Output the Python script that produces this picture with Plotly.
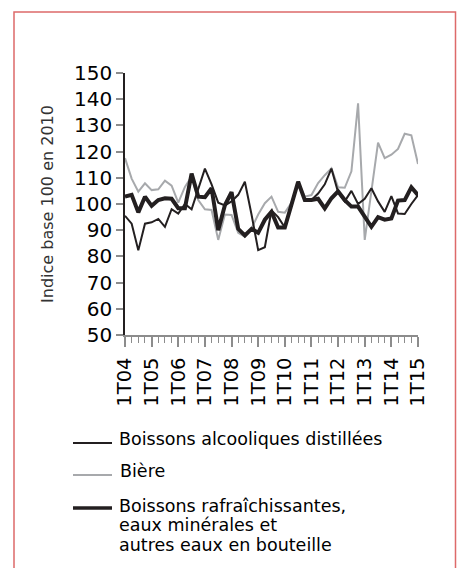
import plotly.graph_objects as go

quarters = list(range(45))
tick_pos = [0, 4, 8, 12, 16, 20, 24, 28, 32, 36, 40, 44]
tick_labels = ["1T04", "1T05", "1T06", "1T07", "1T08", "1T09", "1T10",
               "1T11", "1T12", "1T13", "1T14", "1T15"]

alcools = [95.5, 92.5, 82.3, 92.5, 93, 94.3, 91.3, 98, 96.3, 100,
           98, 106, 113.5, 107.5, 100.5, 99.5, 101, 103.5, 108.5, 96,
           82.4, 83.5, 97.5, 95, 91, 100, 108.5, 101.5, 101.5, 104,
           107.5, 113.5, 104.5, 101, 105, 100, 102, 106, 101, 97,
           103, 96.4, 96.2, 100, 103.4]
biere = [117.5, 109.7, 104.7, 107.9, 105.3, 105.6, 108.9, 107, 100.5, 106.5,
         110.5, 101.5, 98, 97.7, 86.3, 96, 95.8, 89, 87.5, 90.7,
         96, 100.3, 102.8, 97, 96.7, 100.5, 108.5, 102.8, 103.4, 108,
         111, 113.6, 106.4, 106.2, 112.5, 138.4, 86.3, 105, 123.4, 117.5,
         118.8, 121, 126.8, 126.2, 115.3]
rafraich = [102.8, 103.5, 96.8, 102.8, 99.3, 101.5, 102.2, 102, 98.4, 98.4,
            111.6, 102.8, 102.6, 106, 90, 99.5, 104.5, 90.5, 88, 90.5,
            89, 94, 97, 91, 91, 100, 108.5, 101.5, 101.5, 102,
            98.3, 102.2, 104.8, 101.5, 99, 99, 95.2, 91.3, 95, 94,
            94.5, 101.3, 101.5, 106.4, 103.4]

names = ["Boissons alcooliques distillées", "Bière",
         ["Boissons rafraîchissantes,", "eaux minérales et", "autres eaux en bouteille"]]

DARK = "#231f20"
GREY = "#a7a9ac"
FONT = "DejaVu Sans"

fig = go.Figure()
fig.add_trace(go.Scatter(x=quarters, y=biere, mode="lines",
                         line=dict(color=GREY, width=2), name="Bière"))
fig.add_trace(go.Scatter(x=quarters, y=alcools, mode="lines",
                         line=dict(color=DARK, width=2), name=names[0]))
fig.add_trace(go.Scatter(x=quarters, y=rafraich, mode="lines",
                         line=dict(color=DARK, width=4), name="rafraich"))

L, T, W, H = 125, 73, 293, 262
def px(x):
    return (x - L) / W
def py(y):
    return (T + H - y) / H

shapes = [
    dict(type="rect", xref="paper", yref="paper", x0=px(14), x1=px(455.5),
         y0=py(620), y1=py(12), line=dict(color="#dd6a6a", width=1.5)),
    dict(type="line", xref="paper", yref="paper", x0=px(73), x1=px(112),
         y0=py(443), y1=py(443), line=dict(color=DARK, width=2)),
    dict(type="line", xref="paper", yref="paper", x0=px(73), x1=px(112),
         y0=py(475), y1=py(475), line=dict(color=GREY, width=2)),
    dict(type="line", xref="paper", yref="paper", x0=px(73), x1=px(112),
         y0=py(508), y1=py(508), line=dict(color=DARK, width=3.5)),
]

def label(text, x, y, size=17.5):
    return dict(text=text, xref="paper", yref="paper", x=px(x), y=py(y),
                xanchor="left", yanchor="middle", showarrow=False, borderpad=0,
                font=dict(family=FONT, size=size, color="#000"))

annotations = [
    label(names[0], 118, 439),
    label(names[1], 119, 471),
    label(names[2][0], 118, 505.5),
    label(names[2][1], 118, 525),
    label(names[2][2], 118, 544.5),
]

fig.update_layout(
    width=461, height=568, autosize=False,
    margin=dict(l=L, r=461 - L - W, t=T, b=568 - T - H),
    paper_bgcolor="white", plot_bgcolor="white",
    showlegend=False,
    shapes=shapes, annotations=annotations,
    xaxis=dict(range=[0, 44], showgrid=False, zeroline=False,
               showline=True, linecolor="#8c8c8c", linewidth=1.5,
               tickmode="array", tickvals=tick_pos, ticktext=tick_labels,
               ticks="outside", ticklen=10, tickcolor="#8c8c8c", tickwidth=1.5,
               tickangle=-90, ticklabelstandoff=3,
               tickfont=dict(family=FONT, size=19.5, color="#000"),
               minor=dict(tickmode="linear", tick0=0, dtick=1, ticks="outside",
                          ticklen=6, tickcolor="#8c8c8c", tickwidth=1.2)),
    yaxis=dict(range=[50, 150], showgrid=False, zeroline=False,
               showline=True, linecolor=DARK, linewidth=1.5,
               tickmode="linear", tick0=50, dtick=10,
               ticks="outside", ticklen=7, tickcolor="#8c8c8c", tickwidth=1.5,
               tickfont=dict(family=FONT, size=20, color="#000"),
               title=dict(text="Indice base 100 en 2010", standoff=16,
                          font=dict(family=FONT, size=16, color="#333"))),
)

fig.write_html("out.html", config={"displayModeBar": False},
               post_script="document.body.style.margin='0px';")
